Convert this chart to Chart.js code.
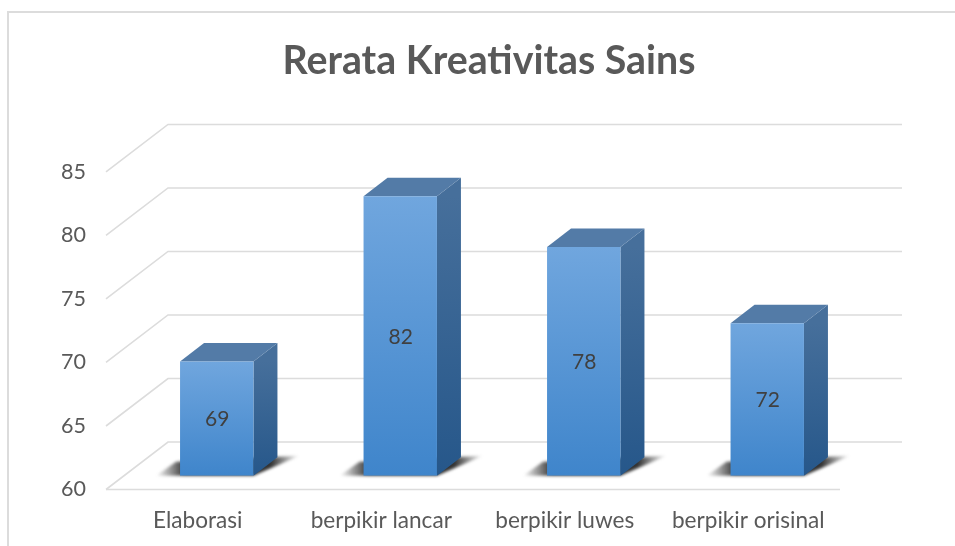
<!doctype html>
<html>

<head>
	<title>Rerata Kreativitas Sains</title>
	<script src="https://cdn.jsdelivr.net/npm/chart.js@4"></script>
	<style>
		html, body { margin: 0; padding: 0; background: #fff; overflow: hidden; }
		#frame { position: absolute; left: 7px; top: 11px; width: 960px; height: 560px; border: 2px solid #dcdcdc; }
		#canvas-holder { position: absolute; left: 0; top: 0; width: 955px; height: 546px; }
	</style>
</head>

<body>
	<div id="frame"></div>
	<div id="canvas-holder">
		<canvas id="chart-area" width="955" height="546"></canvas>
	</div>

	<script>
		const categories = ['Elaborasi', 'berpikir lancar', 'berpikir luwes', 'berpikir orisinal'];
		const values = [69, 82, 78, 72];
		const axisMin = 60;
		const axisMax = 85;
		const chartTitle = 'Rerata Kreativitas Sains';

		// fake 3D: back wall offset, bar offset into the floor, bar depth
		const wall = { dx: 62, dy: -47.5, width: 734 };
		const barShift = { dx: 19, dy: -13.8 };
		const depth = { dx: 24, dy: -18.5 };

		function vGradient(ctx, y0, y1, from, to) {
			const g = ctx.createLinearGradient(0, y0, 0, y1);
			g.addColorStop(0, from);
			g.addColorStop(1, to);
			return g;
		}

		function poly(ctx, pts, fill) {
			ctx.beginPath();
			pts.forEach((p, i) => i ? ctx.lineTo(p[0], p[1]) : ctx.moveTo(p[0], p[1]));
			ctx.closePath();
			ctx.fillStyle = fill;
			ctx.fill();
		}

		const wallPlugin = {
			id: 'wall',
			afterLayout(chart) {
				// title sits right of the canvas centre in the original
				chart.titleBlock.left = 23;
				chart.titleBlock.right = 955;
			},
			beforeDatasetsDraw(chart) {
				const ctx = chart.ctx;
				const { left, right } = chart.chartArea;
				const yScale = chart.scales.y;
				ctx.save();
				ctx.strokeStyle = '#dcdcdc';
				ctx.lineWidth = 1.6;
				yScale.ticks.forEach((t) => {
					const y = yScale.getPixelForValue(t.value);
					ctx.beginPath();
					ctx.moveTo(left, y);
					ctx.lineTo(left + wall.dx, y + wall.dy);
					ctx.lineTo(left + wall.dx + wall.width, y + wall.dy);
					ctx.stroke();
				});
				const y0 = yScale.getPixelForValue(yScale.min);
				ctx.beginPath();
				ctx.moveTo(left, y0);
				ctx.lineTo(right, y0);
				ctx.stroke();
				ctx.restore();

				// everything of the bars is moved back onto the floor
				ctx.save();
				ctx.translate(barShift.dx, barShift.dy);
				chart.getDatasetMeta(0).data.forEach((bar) => {
					const l = bar.x - bar.width / 2;
					const r = bar.x + bar.width / 2;
					const b = bar.base;
					const t = bar.y;

					// floor shadow
					const sh = ctx.createLinearGradient(l - 24, 0, r + 46, 0);
					sh.addColorStop(0, 'rgba(40,40,40,0)');
					sh.addColorStop(0.2, 'rgba(40,40,40,0.95)');
					sh.addColorStop(0.8, 'rgba(40,40,40,0.95)');
					sh.addColorStop(1, 'rgba(40,40,40,0)');
					ctx.save();
					ctx.filter = 'blur(1.5px)';
					poly(ctx, [[l - 24, b], [l - 4, b - 14], [r + 46, b - 20], [r, b]], sh);
					ctx.restore();

					// side and top faces
					poly(ctx, [[r, t], [r + depth.dx, t + depth.dy], [r + depth.dx, b + depth.dy], [r, b]],
						vGradient(ctx, t, b, '#466f9b', '#26578a'));
					poly(ctx, [[l, t], [l + depth.dx, t + depth.dy], [r + depth.dx, t + depth.dy], [r, t]], '#537ba7');
				});
			},
			afterDatasetsDraw(chart) {
				const ctx = chart.ctx;
				ctx.font = '21px Lato';
				ctx.fillStyle = '#404040';
				ctx.textAlign = 'center';
				ctx.textBaseline = 'middle';
				chart.getDatasetMeta(0).data.forEach((bar, i) => {
					ctx.fillText(values[i], bar.x + 0.5, (bar.y + bar.base) / 2 + 1);
				});
				ctx.restore();
			}
		};

		const ctx2d = document.getElementById('chart-area').getContext('2d');
		window.myBar = new Chart(ctx2d, {
			type: 'bar',
			data: {
				labels: categories,
				datasets: [{
					data: values,
					base: axisMin,
					backgroundColor(ctx) {
						const yScale = ctx.chart.scales.y;
						const top = yScale ? yScale.getPixelForValue(ctx.raw) : NaN;
						const bottom = yScale ? yScale.getPixelForValue(axisMin) : NaN;
						if (!Number.isFinite(top) || !Number.isFinite(bottom)) {
							return '#4a8fd4';
						}
						return vGradient(ctx.chart.ctx, top, bottom, '#70a6de', '#3f85cb');
					},
					borderWidth: 0,
					barPercentage: 0.4,
					categoryPercentage: 1
				}]
			},
			options: {
				responsive: false,
				animation: false,
				layout: { padding: { right: 115 } },
				plugins: {
					legend: { display: false },
					tooltip: { enabled: false },
					title: {
						display: true,
						text: chartTitle,
						color: '#595959',
						font: { family: 'Lato', size: 39.3, weight: 'bold', lineHeight: 1.2 },
						padding: { top: 37.4, bottom: 87.4 }
					}
				},
				scales: {
					x: {
						grid: { display: false },
						border: { display: false },
						ticks: { color: '#595959', font: { family: 'Lato', size: 22.6 }, padding: 9.5, maxRotation: 0 },
						afterFit(scale) { scale.height = 56.5; }
					},
					y: {
						min: axisMin,
						max: axisMax,
						grid: { display: false },
						border: { display: false },
						ticks: { stepSize: 5, color: '#595959', font: { family: 'Lato', size: 21.5 }, padding: 12 },
						afterFit(scale) { scale.width = 106; }
					}
				}
			},
			plugins: [wallPlugin]
		});
	</script>
</body>
</html>
